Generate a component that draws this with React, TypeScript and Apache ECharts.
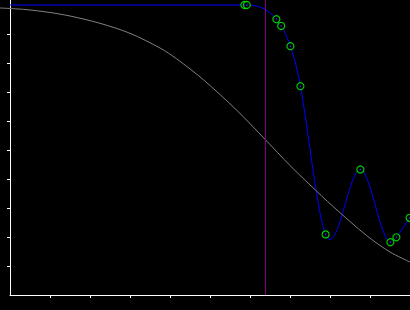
import React, { useEffect, useRef } from "react";
import * as echarts from "echarts";

// Gray reference curve (x in 0..100 units, y in 0..100 units)
const grayX = [-2.5, 3.75, 10, 15, 22.5, 30, 37.5, 41.7, 48.3, 56.7, 63.9, 70, 75, 80.8, 89.2, 95, 100];
const grayY = [98.97, 98.45, 97.41, 96.21, 93.69, 90.24, 85.17, 81.41, 74.28, 63.69, 53.48, 44.66, 37.97, 30.48, 20.45, 14.83, 11.38];

// Measured points (blue spline through green markers)
const pointX = [58.6, 59.2, 66.6, 67.8, 70.1, 72.6, 78.9, 87.6, 95.1, 96.6, 99.9];
const pointY = [100, 100, 95.1, 92.8, 85.8, 72.0, 20.9, 43.3, 18.2, 19.9, 26.6];
const blueStart = [0, 100];

const cursorX = 63.8;
const xTicks = [10, 20, 30, 40, 50, 60, 70, 80, 90];
const yTicks = [10, 20, 30, 40, 50, 60, 70, 80, 90];

// natural cubic spline slopes (in pixel space), y as function of x
function splineSlopes(xs: number[], ys: number[]): number[] {
  const n = xs.length;
  const h: number[] = [];
  for (let i = 0; i < n - 1; i++) h.push(xs[i + 1] - xs[i]);
  const M = new Array(n).fill(0);
  if (n > 2) {
    const a: number[] = [], b: number[] = [], c: number[] = [], d: number[] = [];
    for (let i = 1; i < n - 1; i++) {
      a.push(h[i - 1]);
      b.push(2 * (h[i - 1] + h[i]));
      c.push(h[i]);
      d.push(6 * ((ys[i + 1] - ys[i]) / h[i] - (ys[i] - ys[i - 1]) / h[i - 1]));
    }
    const m = b.length;
    for (let i = 1; i < m; i++) {
      const w = a[i] / b[i - 1];
      b[i] -= w * c[i - 1];
      d[i] -= w * d[i - 1];
    }
    const sol = new Array(m).fill(0);
    sol[m - 1] = d[m - 1] / b[m - 1];
    for (let i = m - 2; i >= 0; i--) sol[i] = (d[i] - c[i] * sol[i + 1]) / b[i];
    for (let i = 0; i < m; i++) M[i + 1] = sol[i];
  }
  const s: number[] = [];
  for (let i = 0; i < n - 1; i++) {
    s.push((ys[i + 1] - ys[i]) / h[i] - (h[i] * (2 * M[i] + M[i + 1])) / 6);
  }
  s.push((ys[n - 1] - ys[n - 2]) / h[n - 2] + (h[n - 2] * (M[n - 2] + 2 * M[n - 1])) / 6);
  return s;
}

export default function App() {
  const ref = useRef<HTMLDivElement>(null);
  useEffect(() => {
    document.body.style.margin = "0";
    document.body.style.background = "#000";
    const chart = echarts.init(ref.current!, null, { renderer: "svg" });
    const gray = grayX.map((x, i) => [x, grayY[i]]);
    const pts = pointX.map((x, i) => [x, pointY[i]]);
    const yMax = 295 / 2.9;
    chart.setOption({
      animation: false,
      backgroundColor: "#000",
      grid: [
        { left: 10, right: 0, top: 0, bottom: 15 },
        { left: 0, right: 0, top: 0, bottom: 15 },
      ],
      xAxis: [
        {
          type: "value",
          gridIndex: 0,
          min: 0,
          max: 100,
          splitLine: { show: false },
          axisLine: { lineStyle: { color: "#fff", width: 1 } },
          axisTick: { show: true, length: 3, lineStyle: { color: "#fff" }, customValues: xTicks },
          axisLabel: { show: false },
        },
        { type: "value", gridIndex: 1, min: -2.5, max: 100, show: false },
      ],
      yAxis: [
        {
          type: "value",
          gridIndex: 0,
          min: 0,
          max: yMax,
          splitLine: { show: false },
          axisLine: { show: true, lineStyle: { color: "#fff", width: 1 } },
          axisTick: { show: true, length: 3, lineStyle: { color: "#fff" }, customValues: yTicks },
          axisLabel: { show: false },
        },
        { type: "value", gridIndex: 1, min: 0, max: yMax, show: false },
      ],
      series: [
        {
          type: "line",
          xAxisIndex: 1,
          yAxisIndex: 1,
          data: gray,
          smooth: 0.3,
          showSymbol: false,
          lineStyle: { color: "#808080", width: 1 },
        },
        {
          type: "line",
          data: [],
          markLine: {
            silent: true,
            symbol: "none",
            label: { show: false },
            lineStyle: { color: "#800080", width: 1, type: "solid" },
            data: [{ xAxis: cursorX }],
          },
        },
        {
          type: "line",
          data: [blueStart, pts[0]],
          showSymbol: false,
          lineStyle: { color: "#0000ff", width: 1 },
        },
        {
          type: "custom",
          data: pts,
          encode: { x: 0, y: 1 },
          renderItem: (params: any, api: any) => {
            const i = params.dataIndex;
            if (i >= pts.length - 1) return { type: "group", children: [] };
            const P = pts.map((p) => api.coord(p));
            const xs = P.map((p: number[]) => p[0]);
            const ys = P.map((p: number[]) => p[1]);
            const s = splineSlopes(xs, ys);
            const hh = (xs[i + 1] - xs[i]) / 3;
            return {
              type: "bezierCurve",
              shape: {
                x1: xs[i],
                y1: ys[i],
                cpx1: xs[i] + hh,
                cpy1: ys[i] + s[i] * hh,
                cpx2: xs[i + 1] - hh,
                cpy2: ys[i + 1] - s[i + 1] * hh,
                x2: xs[i + 1],
                y2: ys[i + 1],
              },
              style: { stroke: "#0000ff", fill: "none", lineWidth: 1 },
            };
          },
        },
        {
          type: "scatter",
          data: pts,
          symbol: "circle",
          symbolSize: 7,
          itemStyle: { color: "#000", borderColor: "#00ff00", borderWidth: 1.2 },
          z: 5,
        },
        {
          type: "scatter",
          data: pts,
          symbol: "circle",
          symbolSize: 1.5,
          itemStyle: { color: "#2040ff" },
          z: 6,
        },
      ],
    });
    return () => chart.dispose();
  }, []);
  return <div ref={ref} style={{ width: 410, height: 310, background: "#000" }} />;
}
